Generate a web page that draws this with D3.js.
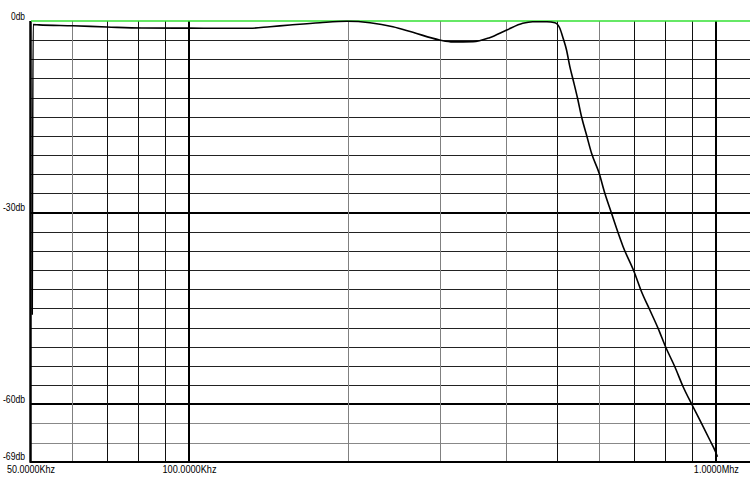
<!DOCTYPE html>
<html>
<head>
<meta charset="utf-8">
<script src="https://cdn.jsdelivr.net/npm/d3@7"></script>
<style>
  html, body { margin: 0; padding: 0; background: #fff; }
  svg { display: block; }
  text { font-family: "Liberation Sans", Arial, sans-serif; font-size: 10px; fill: #000; }
</style>
</head>
<body>
<script>
// ---- data ----
const freqKHz = [50.4, 50.6, 51.9, 60.2, 69.9, 81.4, 100, 130.5, 142.5, 155.5, 177.2, 199.4, 220.6, 243.8, 266, 299, 317, 346, 372, 401, 430, 449, 478, 495,
  505.7, 513, 520.7, 528.3, 536, 546.4, 556, 568.3, 580.9, 600.5, 615.6, 633.9, 647.9, 666.8, 699.6, 722.7, 749.4, 777, 802.6, 835.9, 866.7, 901.5, 939.3, 973.9, 998.5, 1007];
const gainDb = [-46, -0.55, -0.6, -0.75, -0.94, -1.1, -1.12, -1.14, -0.89, -0.63, -0.27, -0.05, -0.27, -0.89, -1.77, -2.97, -3.27, -3.24, -2.61, -1.41, -0.36, -0.11, -0.11, -0.27,
  -1.14, -2.71, -4.54, -7.15, -9.24, -12.1, -14.98, -17.85, -20.71, -23.84, -26.97, -30.1, -32.45, -35.33, -39.25, -42.38, -45.24, -48.11, -50.99, -54.12, -57.25, -60.11, -62.98, -65.59, -67.42, -68.21];

const yTickValues = [0, -30, -60, -69];
const yTickLabels = ["0db", "-30db", "-60db", "-69db"];
const xTickValues = [50000, 100000, 1000000];
const xTickLabels = ["50.0000Khz", "100.0000Khz", "1.0000Mhz"];

const minorFreqs = [60000, 70000, 80000, 90000, 200000, 300000, 400000, 500000, 600000, 700000, 800000, 900000];
const majorFreqs = [100000, 1000000];
const gridDb = d3.range(-3, -69, -3);
const majorDb = [-30, -60];

// ---- layout ----
const W = 750, H = 484;
const svg = d3.select("body").append("svg").attr("width", W).attr("height", H);
svg.append("rect").attr("width", W).attr("height", H).attr("fill", "#fff");

const x = d3.scaleLog().domain([50000, 1161000]).range([30.4, 750]);
const y = d3.scaleLinear().domain([0, -69]).range([21, 461.8]);

const grayV = new Set([60000, 200000, 300000, 400000, 600000]);
const grayH = new Set([-63, -66]);

// horizontal grid
svg.append("g").selectAll("line").data(gridDb.filter(d => !majorDb.includes(d))).join("line")
  .attr("x1", 30).attr("x2", W)
  .attr("y1", d => Math.round(y(d)) + 0.5).attr("y2", d => Math.round(y(d)) + 0.5)
  .attr("stroke", d => grayH.has(d) ? "#888" : "#222").attr("stroke-width", 1);

svg.append("g").selectAll("line").data(majorDb).join("line")
  .attr("x1", 30).attr("x2", W)
  .attr("y1", d => Math.round(y(d))).attr("y2", d => Math.round(y(d)))
  .attr("stroke", "#000").attr("stroke-width", 2);

// vertical grid
svg.append("g").selectAll("line").data(minorFreqs).join("line")
  .attr("x1", d => Math.round(x(d)) + 0.5).attr("x2", d => Math.round(x(d)) + 0.5)
  .attr("y1", y(0)).attr("y2", y(-69))
  .attr("stroke", d => grayV.has(d) ? "#808080" : "#111").attr("stroke-width", 1);

svg.append("g").selectAll("line").data(majorFreqs).join("line")
  .attr("x1", d => Math.round(x(d))).attr("x2", d => Math.round(x(d)))
  .attr("y1", y(0)).attr("y2", y(-69))
  .attr("stroke", "#000").attr("stroke-width", 2);

// frame: left axis and bottom
svg.append("line").attr("x1", 30.5).attr("x2", 30.5).attr("y1", y(0)).attr("y2", y(-69) + 1)
  .attr("stroke", "#000").attr("stroke-width", 2.5);
svg.append("line").attr("x1", 30).attr("x2", W).attr("y1", Math.round(y(-69))).attr("y2", Math.round(y(-69)))
  .attr("stroke", "#000").attr("stroke-width", 2);

// 0 dB reference (green)
svg.append("line").attr("x1", 31).attr("x2", W).attr("y1", y(0)).attr("y2", y(0))
  .attr("stroke", "#33e033").attr("stroke-width", 1.6);

// response curve
const pts = freqKHz.map((f, i) => [f * 1000, gainDb[i]]);
const line = d3.line().x(d => x(d[0])).y(d => y(d[1])).curve(d3.curveMonotoneX);
svg.append("path").datum(pts).attr("d", line)
  .attr("fill", "none").attr("stroke", "#000").attr("stroke-width", 1.6).attr("stroke-linejoin", "round");

// y labels
const yLen = { "0db": 14, "-30db": 22, "-60db": 22, "-69db": 22 };
svg.append("g").selectAll("text").data(yTickValues).join("text")
  .attr("x", 25).attr("y", d => y(d) - 1.5)
  .attr("text-anchor", "end")
  .attr("textLength", (d, i) => yLen[yTickLabels[i]])
  .attr("lengthAdjust", "spacingAndGlyphs")
  .text((d, i) => yTickLabels[i]);

// x labels
const xLen = { "50.0000Khz": 48, "100.0000Khz": 54, "1.0000Mhz": 45 };
svg.append("g").selectAll("text").data(xTickValues).join("text")
  .attr("x", (d, i) => x(d) - xLen[xTickLabels[i]] / 2 + 0.5).attr("y", 473)
  .attr("textLength", (d, i) => xLen[xTickLabels[i]])
  .attr("lengthAdjust", "spacingAndGlyphs")
  .text((d, i) => xTickLabels[i]);
</script>
</body>
</html>
